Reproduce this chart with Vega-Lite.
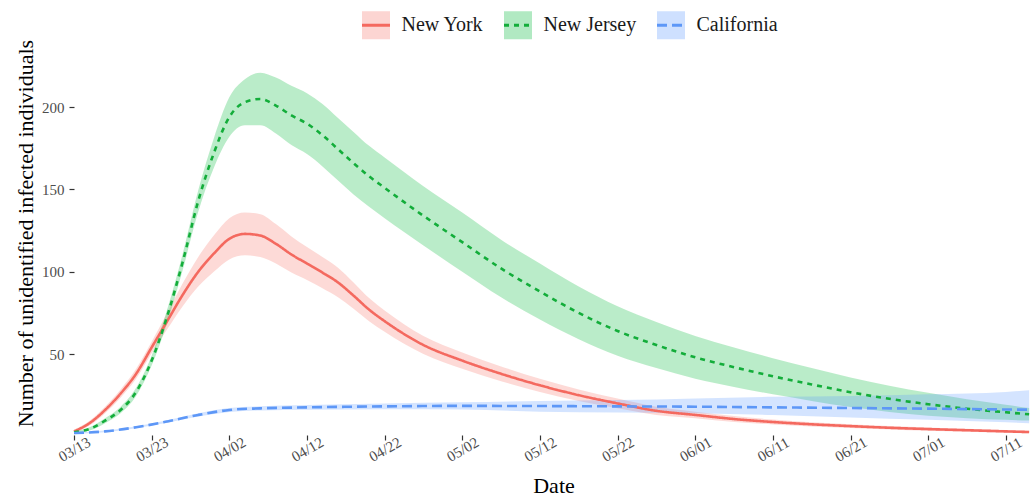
{
  "$schema": "https://vega.github.io/schema/vega-lite/v6.json",
  "width": 959,
  "height": 364,
  "autosize": {"type": "none"},
  "padding": {"left": 74, "top": 71, "right": 0, "bottom": 62},
  "background": "white",
  "config": {
    "view": {"stroke": null},
    "font": "Liberation Serif",
    "axis": {"grid": false, "domain": false, "tickColor": "#333333", "tickWidth": 1.2, "labelFont": "Liberation Serif", "titleFont": "Liberation Serif", "titleFontWeight": "normal", "titleColor": "#000000", "labelColor": "#4d4d4d"},
    "legend": {"labelFont": "Liberation Serif"}
  },
  "data": {"values": [
    {"state": "New York", "date": "2020-03-13", "mid": 3, "lo": 2, "hi": 4},
    {"state": "New York", "date": "2020-03-15", "mid": 8, "lo": 6.5, "hi": 9.5},
    {"state": "New York", "date": "2020-03-17", "mid": 16, "lo": 14, "hi": 18},
    {"state": "New York", "date": "2020-03-19", "mid": 26, "lo": 23.5, "hi": 28.5},
    {"state": "New York", "date": "2020-03-21", "mid": 38, "lo": 35, "hi": 41},
    {"state": "New York", "date": "2020-03-23", "mid": 54, "lo": 50.5, "hi": 57.5},
    {"state": "New York", "date": "2020-03-25", "mid": 70, "lo": 65, "hi": 75},
    {"state": "New York", "date": "2020-03-27", "mid": 86, "lo": 79, "hi": 93},
    {"state": "New York", "date": "2020-03-29", "mid": 100, "lo": 91, "hi": 109},
    {"state": "New York", "date": "2020-03-31", "mid": 111, "lo": 100, "hi": 122},
    {"state": "New York", "date": "2020-04-02", "mid": 120, "lo": 107.5, "hi": 132.5},
    {"state": "New York", "date": "2020-04-04", "mid": 123, "lo": 110, "hi": 136},
    {"state": "New York", "date": "2020-04-06", "mid": 122, "lo": 109, "hi": 135},
    {"state": "New York", "date": "2020-04-08", "mid": 117, "lo": 105, "hi": 129},
    {"state": "New York", "date": "2020-04-10", "mid": 110.5, "lo": 99.5, "hi": 121.5},
    {"state": "New York", "date": "2020-04-12", "mid": 105, "lo": 95, "hi": 115},
    {"state": "New York", "date": "2020-04-14", "mid": 99.5, "lo": 90, "hi": 109},
    {"state": "New York", "date": "2020-04-16", "mid": 93.5, "lo": 84.5, "hi": 102.5},
    {"state": "New York", "date": "2020-04-18", "mid": 85.5, "lo": 77.5, "hi": 93.5},
    {"state": "New York", "date": "2020-04-20", "mid": 77, "lo": 70, "hi": 84},
    {"state": "New York", "date": "2020-04-22", "mid": 70, "lo": 63.5, "hi": 76.5},
    {"state": "New York", "date": "2020-04-27", "mid": 55.5, "lo": 50, "hi": 61},
    {"state": "New York", "date": "2020-05-02", "mid": 46, "lo": 41, "hi": 51},
    {"state": "New York", "date": "2020-05-07", "mid": 38, "lo": 33.5, "hi": 42.5},
    {"state": "New York", "date": "2020-05-12", "mid": 31, "lo": 27, "hi": 35},
    {"state": "New York", "date": "2020-05-17", "mid": 25, "lo": 21.5, "hi": 28.5},
    {"state": "New York", "date": "2020-05-22", "mid": 20, "lo": 17, "hi": 23},
    {"state": "New York", "date": "2020-05-27", "mid": 15.5, "lo": 13, "hi": 18},
    {"state": "New York", "date": "2020-06-01", "mid": 13, "lo": 11, "hi": 15},
    {"state": "New York", "date": "2020-06-06", "mid": 10.5, "lo": 8.7, "hi": 12.3},
    {"state": "New York", "date": "2020-06-11", "mid": 8.7, "lo": 7.2, "hi": 10.2},
    {"state": "New York", "date": "2020-06-16", "mid": 7.3, "lo": 6, "hi": 8.6},
    {"state": "New York", "date": "2020-06-21", "mid": 6.2, "lo": 5, "hi": 7.4},
    {"state": "New York", "date": "2020-06-26", "mid": 5.2, "lo": 4.2, "hi": 6.2},
    {"state": "New York", "date": "2020-07-01", "mid": 4.4, "lo": 3.4, "hi": 5.4},
    {"state": "New York", "date": "2020-07-06", "mid": 3.7, "lo": 2.8, "hi": 4.6},
    {"state": "New York", "date": "2020-07-11", "mid": 3, "lo": 2.2, "hi": 3.8},
    {"state": "New York", "date": "2020-07-14", "mid": 2.6, "lo": 1.8, "hi": 3.4},

    {"state": "New Jersey", "date": "2020-03-13", "mid": 2.5, "lo": 2, "hi": 3},
    {"state": "New Jersey", "date": "2020-03-15", "mid": 4.5, "lo": 3.5, "hi": 5.5},
    {"state": "New Jersey", "date": "2020-03-17", "mid": 9.5, "lo": 8, "hi": 11},
    {"state": "New Jersey", "date": "2020-03-19", "mid": 16, "lo": 14, "hi": 18},
    {"state": "New Jersey", "date": "2020-03-21", "mid": 27, "lo": 24.5, "hi": 29.5},
    {"state": "New Jersey", "date": "2020-03-23", "mid": 46, "lo": 43, "hi": 49},
    {"state": "New Jersey", "date": "2020-03-25", "mid": 73, "lo": 69, "hi": 77},
    {"state": "New Jersey", "date": "2020-03-27", "mid": 106, "lo": 101, "hi": 111},
    {"state": "New Jersey", "date": "2020-03-29", "mid": 143, "lo": 136.5, "hi": 149.5},
    {"state": "New Jersey", "date": "2020-03-31", "mid": 172, "lo": 163, "hi": 181},
    {"state": "New Jersey", "date": "2020-04-02", "mid": 194, "lo": 182, "hi": 206},
    {"state": "New Jersey", "date": "2020-04-04", "mid": 203, "lo": 189, "hi": 217},
    {"state": "New Jersey", "date": "2020-04-06", "mid": 205, "lo": 189, "hi": 221},
    {"state": "New Jersey", "date": "2020-04-08", "mid": 201, "lo": 184, "hi": 218},
    {"state": "New Jersey", "date": "2020-04-10", "mid": 195, "lo": 177, "hi": 213},
    {"state": "New Jersey", "date": "2020-04-12", "mid": 190, "lo": 171.5, "hi": 208.5},
    {"state": "New Jersey", "date": "2020-04-14", "mid": 183, "lo": 164, "hi": 202},
    {"state": "New Jersey", "date": "2020-04-16", "mid": 174.5, "lo": 155.5, "hi": 193.5},
    {"state": "New Jersey", "date": "2020-04-18", "mid": 166, "lo": 147, "hi": 185},
    {"state": "New Jersey", "date": "2020-04-20", "mid": 158, "lo": 139.5, "hi": 176.5},
    {"state": "New Jersey", "date": "2020-04-22", "mid": 151, "lo": 132.5, "hi": 169.5},
    {"state": "New Jersey", "date": "2020-04-27", "mid": 134, "lo": 116, "hi": 152},
    {"state": "New Jersey", "date": "2020-05-02", "mid": 118, "lo": 100, "hi": 136},
    {"state": "New Jersey", "date": "2020-05-07", "mid": 102, "lo": 84.5, "hi": 119.5},
    {"state": "New Jersey", "date": "2020-05-12", "mid": 88, "lo": 71, "hi": 105},
    {"state": "New Jersey", "date": "2020-05-17", "mid": 75, "lo": 59, "hi": 91},
    {"state": "New Jersey", "date": "2020-05-22", "mid": 64, "lo": 49, "hi": 79},
    {"state": "New Jersey", "date": "2020-05-27", "mid": 55.5, "lo": 41.5, "hi": 69.5},
    {"state": "New Jersey", "date": "2020-06-01", "mid": 48, "lo": 35, "hi": 61},
    {"state": "New Jersey", "date": "2020-06-06", "mid": 42, "lo": 30, "hi": 54},
    {"state": "New Jersey", "date": "2020-06-11", "mid": 36.5, "lo": 25.5, "hi": 47.5},
    {"state": "New Jersey", "date": "2020-06-16", "mid": 31.5, "lo": 21.5, "hi": 41.5},
    {"state": "New Jersey", "date": "2020-06-21", "mid": 26.8, "lo": 17.8, "hi": 35.8},
    {"state": "New Jersey", "date": "2020-06-26", "mid": 22.8, "lo": 14.8, "hi": 30.8},
    {"state": "New Jersey", "date": "2020-07-01", "mid": 19.5, "lo": 12.5, "hi": 26.5},
    {"state": "New Jersey", "date": "2020-07-06", "mid": 16.8, "lo": 11, "hi": 22.6},
    {"state": "New Jersey", "date": "2020-07-11", "mid": 14.6, "lo": 10, "hi": 19.2},
    {"state": "New Jersey", "date": "2020-07-14", "mid": 13.4, "lo": 9.6, "hi": 17.2},

    {"state": "California", "date": "2020-03-13", "mid": 2, "lo": 1.6, "hi": 2.4},
    {"state": "California", "date": "2020-03-17", "mid": 3, "lo": 2.5, "hi": 3.5},
    {"state": "California", "date": "2020-03-21", "mid": 5.5, "lo": 4.9, "hi": 6.1},
    {"state": "California", "date": "2020-03-25", "mid": 9, "lo": 8.2, "hi": 9.8},
    {"state": "California", "date": "2020-03-29", "mid": 13, "lo": 12, "hi": 14},
    {"state": "California", "date": "2020-04-02", "mid": 16, "lo": 14.8, "hi": 17.2},
    {"state": "California", "date": "2020-04-06", "mid": 17, "lo": 15.7, "hi": 18.3},
    {"state": "California", "date": "2020-04-12", "mid": 17.6, "lo": 16.1, "hi": 19.1},
    {"state": "California", "date": "2020-04-22", "mid": 18.2, "lo": 16.4, "hi": 20},
    {"state": "California", "date": "2020-05-02", "mid": 18.5, "lo": 16.3, "hi": 20.7},
    {"state": "California", "date": "2020-05-12", "mid": 18.4, "lo": 15, "hi": 21.5},
    {"state": "California", "date": "2020-05-22", "mid": 18.2, "lo": 14.5, "hi": 22},
    {"state": "California", "date": "2020-06-01", "mid": 18, "lo": 14, "hi": 23},
    {"state": "California", "date": "2020-06-11", "mid": 17.6, "lo": 13, "hi": 24},
    {"state": "California", "date": "2020-06-21", "mid": 17.2, "lo": 11.5, "hi": 24.5},
    {"state": "California", "date": "2020-07-01", "mid": 16.8, "lo": 10, "hi": 25.5},
    {"state": "California", "date": "2020-07-11", "mid": 16.3, "lo": 8.5, "hi": 27},
    {"state": "California", "date": "2020-07-14", "mid": 16.2, "lo": 8, "hi": 28}
  ]},
  "encoding": {
    "x": {
      "field": "date", "type": "temporal",
      "scale": {"type": "utc", "domain": [{"year": 2020, "month": 3, "date": 13, "utc": true}, {"year": 2020, "month": 7, "date": 14, "hours": 12, "utc": true}], "nice": false},
      "axis": {
        "title": "Date", "titleFontSize": 22, "titleY": 57, "titleBaseline": "alphabetic",
        "labelExpr": "utcFormat(datum.value, '%m/%d')",
        "values": [
          {"year": 2020, "month": 3, "date": 13, "utc": true},
          {"year": 2020, "month": 3, "date": 23, "utc": true},
          {"year": 2020, "month": 4, "date": 2, "utc": true},
          {"year": 2020, "month": 4, "date": 12, "utc": true},
          {"year": 2020, "month": 4, "date": 22, "utc": true},
          {"year": 2020, "month": 5, "date": 2, "utc": true},
          {"year": 2020, "month": 5, "date": 12, "utc": true},
          {"year": 2020, "month": 5, "date": 22, "utc": true},
          {"year": 2020, "month": 6, "date": 1, "utc": true},
          {"year": 2020, "month": 6, "date": 11, "utc": true},
          {"year": 2020, "month": 6, "date": 21, "utc": true},
          {"year": 2020, "month": 7, "date": 1, "utc": true},
          {"year": 2020, "month": 7, "date": 11, "utc": true}
        ],
        "labelAngle": -30, "labelAlign": "center", "labelBaseline": "middle", "labelPadding": 9,
        "tickSize": 5, "labelFontSize": 15, "labelFlush": false, "labelOverlap": false
      }
    }
  },
  "layer": [
    {
      "mark": {"type": "area", "fillOpacity": 0.27, "interpolate": "monotone"},
      "encoding": {
        "y": {"field": "lo", "type": "quantitative", "title": "Number of unidentified infected individuals",
          "scale": {"domain": [0.8, 222], "nice": false, "zero": false},
          "axis": {"values": [50, 100, 150, 200], "tickSize": 5, "labelPadding": 5, "labelFontSize": 15, "titleFontSize": 22, "titleX": -42, "titleY": 162, "titleBaseline": "alphabetic"}},
        "y2": {"field": "hi"},
        "fill": {"field": "state", "type": "nominal", "sort": ["New York", "New Jersey", "California"],
          "scale": {"range": ["#F8766D", "#00BA38", "#619CFF"]},
          "legend": {"title": null, "orient": "none", "legendX": 286.5, "legendY": -61.5, "direction": "horizontal", "padding": 0,
            "symbolType": "square", "symbolSize": 784, "symbolOpacity": 0.3, "symbolStrokeWidth": 3, "symbolStrokeColor": "transparent",
            "labelFontSize": 20, "labelColor": "#1a1a1a", "labelOffset": 10, "columnPadding": 14, "labelLimit": 300}}
      }
    },
    {
      "mark": {"type": "line", "strokeWidth": 2.6, "interpolate": "monotone"},
      "encoding": {
        "y": {"field": "mid", "type": "quantitative", "title": "Number of unidentified infected individuals",
          "scale": {"domain": [0.8, 222], "nice": false, "zero": false}},
        "stroke": {"field": "state", "type": "nominal",
          "scale": {"domain": ["New York", "New Jersey", "California"], "range": ["#F4695F", "#13AD3A", "#5D97F7"]},
          "legend": {"title": null, "orient": "none", "legendX": 286.5, "legendY": -61.5, "direction": "horizontal", "padding": 0,
            "symbolType": "stroke", "symbolSize": 784, "symbolStrokeWidth": 3,
            "labelFontSize": 20, "labelOpacity": 0, "labelOffset": 10, "columnPadding": 14, "labelLimit": 300}},
        "strokeDash": {"field": "state", "type": "nominal",
          "scale": {"domain": ["New York", "New Jersey", "California"], "range": [[1, 0], [5, 5], [10, 5]]},
          "legend": {"title": null, "orient": "none", "legendX": 286.5, "legendY": -61.5, "direction": "horizontal", "padding": 0,
            "symbolType": "stroke", "symbolSize": 784, "symbolStrokeWidth": 3,
            "labelFontSize": 20, "labelOpacity": 0, "labelOffset": 10, "columnPadding": 14, "labelLimit": 300}}
      }
    }
  ]
}
